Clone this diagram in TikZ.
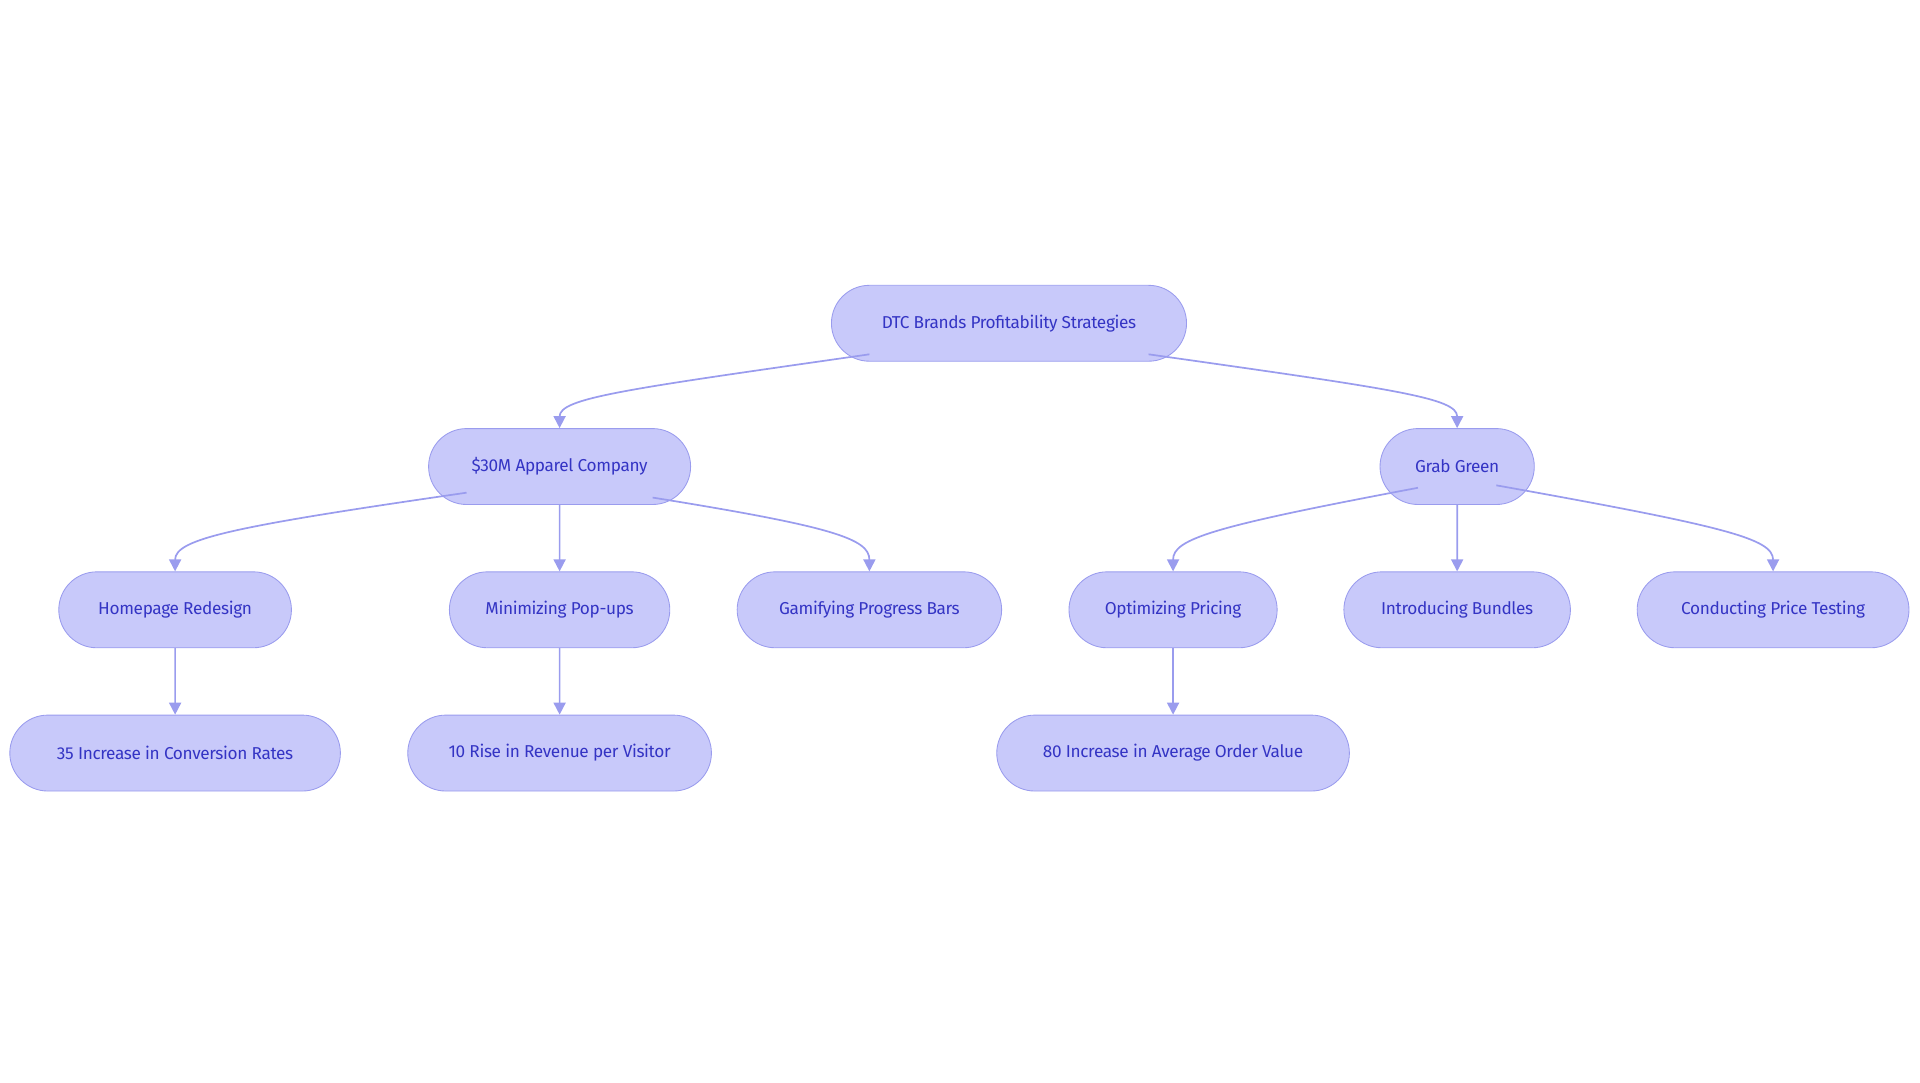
\documentclass[tikz,border=0pt]{standalone}
\usepackage{fontspec}
\setmainfont{Fira Sans}
\usetikzlibrary{shapes.misc,arrows.meta}
\definecolor{boxfill}{HTML}{C8C9FA}
\definecolor{boxline}{HTML}{9A9CEE}
\definecolor{boxtext}{HTML}{3434C4}

\begin{document}
\begin{tikzpicture}[x=0.05cm, y=-0.05cm, ->, >={Triangle[length=14pt,width=14pt]},
    draw=boxline, line width=2pt]
    \tikzstyle{strategy}=[rounded rectangle, draw=boxline, line width=1pt, fill=boxfill,
        text=boxtext, minimum height=3.1cm, inner xsep=0pt,
        font=\fontsize{20}{24}\selectfont\addfontfeature{LetterSpace=-2}]

    \useasboundingbox (0,0) rectangle (1568,884);

    \node[strategy, minimum width=14.5cm] (root) at (824,264) {DTC Brands Profitability Strategies};

    \node[strategy, minimum width=10.7cm] (apparel) at (457,381) {\$30M Apparel Company};
    \node[strategy, minimum width=6.3cm] (grab) at (1190,381) {Grab Green};

    \node[strategy, minimum width=9.5cm] (home) at (143,498) {Homepage Redesign};
    \node[strategy, minimum width=9cm] (popup) at (457,498) {Minimizing Pop-ups};
    \node[strategy, minimum width=10.8cm] (gamify) at (710,498) {Gamifying Progress Bars};
    \node[strategy, minimum width=8.5cm] (pricing) at (958,498) {Optimizing Pricing};
    \node[strategy, minimum width=9.25cm] (bundles) at (1190,498) {Introducing Bundles};
    \node[strategy, minimum width=11.1cm] (testing) at (1448,498) {Conducting Price Testing};

    \node[strategy, minimum width=13.5cm] (conv) at (143,615) {35 Increase in Conversion Rates};
    \node[strategy, minimum width=12.4cm] (rev) at (457,615) {10 Rise in Revenue per Visitor};
    \node[strategy, minimum width=14.4cm] (aov) at (958,615) {80 Increase in Average Order Value};

    % curved links
    \draw (root.south west) ++(0,-6) .. controls (510,318) and (457,325) .. (apparel.north);
    \draw (root.south east) ++(0,-6) .. controls (1140,318) and (1190,325) .. (grab.north);
    \draw (apparel.south west) ++(0,-10) .. controls (190,430) and (143,440) .. (home.north);
    \draw (apparel.south east) ++(0,-6) .. controls (680,430) and (710,440) .. (gamify.north);
    \draw (grab.south west) ++(0,-14) .. controls (990,430) and (958,440) .. (pricing.north);
    \draw (grab.south east) ++(0,-16) .. controls (1410,430) and (1448,440) .. (testing.north);

    % straight links
    \draw (apparel) -- (popup);
    \draw (grab) -- (bundles);
    \draw (home) -- (conv);
    \draw (popup) -- (rev);
    \draw (pricing) -- (aov);
\end{tikzpicture}
\end{document}
